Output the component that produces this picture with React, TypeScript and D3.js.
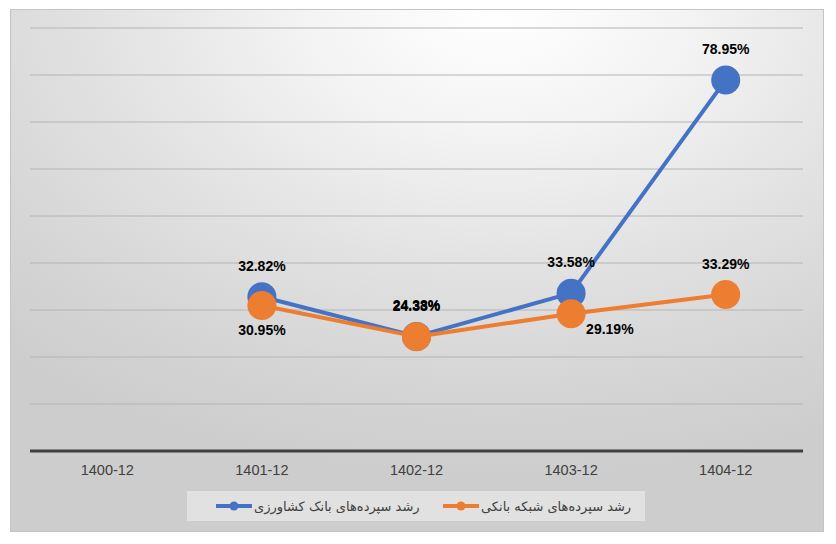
import React from "react";
import { scaleBand, scaleLinear, line, range } from "d3";

const categories = ["1400-12", "1401-12", "1402-12", "1403-12", "1404-12"];
const bankGrowth: (number | null)[] = [null, 32.82, 24.38, 33.58, 78.95];
const networkGrowth: (number | null)[] = [null, 30.95, 24.33, 29.19, 33.29];
const bankName = "رشد سپرده‌های بانک کشاورزی";
const networkName = "رشد سپرده‌های شبکه بانکی";
// where each data label sits relative to its marker
const bankLabelPlace = ["", "above", "above", "above", "above"];
const networkLabelPlace = ["", "below", "above", "belowRight", "above"];

const W = 836;
const H = 544;
const margin = { top: 28, right: 33, bottom: 93, left: 30 };

export default function App() {
  const x = scaleBand<string>()
    .domain(categories)
    .range([margin.left, W - margin.right]);
  const y = scaleLinear()
    .domain([0, 90])
    .range([H - margin.bottom, margin.top]);
  const cx = (i: number) => (x(categories[i]) as number) + x.bandwidth() / 2;

  const path = (vals: (number | null)[]) =>
    line<number | null>()
      .defined((d) => d !== null)
      .x((_, i) => cx(i))
      .y((d) => y(d as number))(vals) || "";

  const series = [
    { name: bankName, vals: bankGrowth, color: "#4472c4", place: bankLabelPlace },
    { name: networkName, vals: networkGrowth, color: "#ed7d31", place: networkLabelPlace },
  ];

  const labelPos = (i: number, v: number, place: string) => {
    const px = cx(i);
    const py = y(v);
    if (place === "below") return { x: px, y: py + 29, anchor: "middle" };
    if (place === "belowRight") return { x: px + 15, y: py + 20, anchor: "start" };
    return { x: px, y: py - 26, anchor: "middle" };
  };

  return (
    <svg
      width={W}
      height={H}
      style={{ position: "absolute", left: 0, top: 0, display: "block" }}
    >
      <defs>
        <radialGradient id="bg" cx="0.6" cy="0" r="0.9" fx="0.6" fy="0">
          <stop offset="0" stopColor="#ffffff" />
          <stop offset="0.25" stopColor="#f4f4f4" />
          <stop offset="0.55" stopColor="#e2e2e2" />
          <stop offset="0.8" stopColor="#d5d5d5" />
          <stop offset="1" stopColor="#cdcdcd" />
        </radialGradient>
      </defs>
      <rect x={0} y={0} width={W} height={H} fill="#ffffff" />
      <rect x={10.5} y={9.5} width={813} height={522} fill="url(#bg)" stroke="#c4c4c4" strokeWidth={1} />

      {range(10, 91, 10).map((t) => (
        <line
          key={t}
          x1={margin.left}
          x2={W - margin.right}
          y1={y(t)}
          y2={y(t)}
          stroke="#b4b4b4"
          strokeWidth={1}
        />
      ))}
      <line
        x1={margin.left}
        x2={W - margin.right}
        y1={y(0)}
        y2={y(0)}
        stroke="#404040"
        strokeWidth={3}
      />
      {categories.map((c, i) => (
        <text
          key={c}
          x={cx(i)}
          y={y(0) + 24}
          textAnchor="middle"
          fontFamily="'Liberation Sans', Arial, sans-serif"
          fontSize={14.5}
          fill="#404040"
        >
          {c}
        </text>
      ))}

      {series.map((s) => (
        <g key={s.name}>
          <path d={path(s.vals)} fill="none" stroke={s.color} strokeWidth={4} strokeLinejoin="round" />
          {s.vals.map((v, i) =>
            v === null ? null : (
              <circle key={i} cx={cx(i)} cy={y(v)} r={14.5} fill={s.color} />
            )
          )}
        </g>
      ))}
      {series.map((s) =>
        s.vals.map((v, i) => {
          if (v === null) return null;
          const p = labelPos(i, v, s.place[i]);
          return (
            <text
              key={s.name + i}
              x={p.x}
              y={p.y}
              textAnchor={p.anchor}
              fontFamily="'Liberation Sans', Arial, sans-serif"
              fontWeight="bold"
              fontSize={14}
              fill="#000000"
            >
              {v.toFixed(2)}%
            </text>
          );
        })
      )}

      <rect x={187} y={491} width={458} height={30} fill="#ffffff" fillOpacity={0.4} />
      {[
        { s: series[0], x0: 216 },
        { s: series[1], x0: 443 },
      ].map(({ s, x0 }) => (
        <g key={s.name}>
          <line x1={x0} x2={x0 + 36} y1={506} y2={506} stroke={s.color} strokeWidth={4} />
          <circle cx={x0 + 18} cy={506} r={4.5} fill={s.color} />
          <text
            x={x0 + 38}
            y={511}
            textAnchor="start"
            fontFamily="'DejaVu Sans', sans-serif"
            fontSize={13}
            fill="#404040"
          >
            {s.name}
          </text>
        </g>
      ))}
    </svg>
  );
}
